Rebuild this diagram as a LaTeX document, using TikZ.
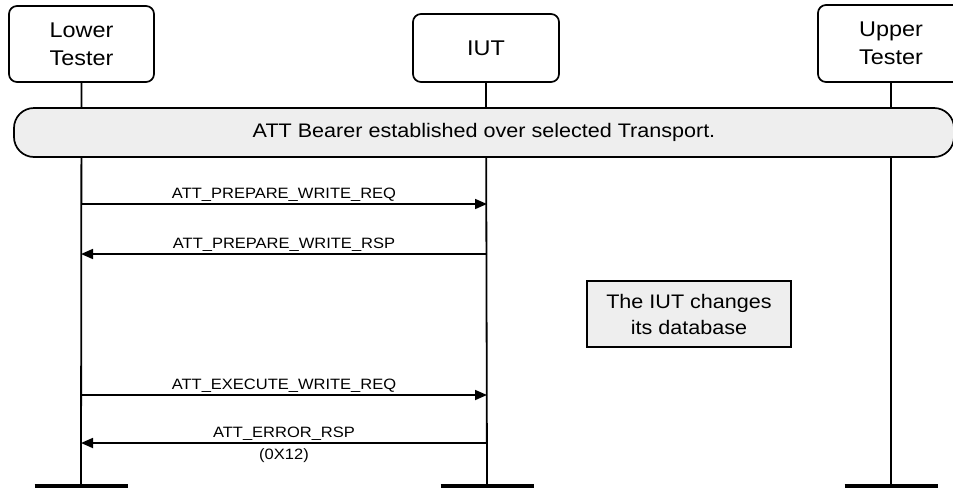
\documentclass[tikz,border=0pt]{standalone}
\usepackage{fontspec}
\setmainfont[FakeStretch=1.1]{Liberation Sans}
\usetikzlibrary{arrows.meta}
\definecolor{boxgray}{HTML}{EEEEEE}
\tikzset{
  x=1pt,y=-1pt,
  actor/.style={draw,line width=1.7pt,rounded corners=8pt,fill=white,inner sep=0pt,font=\fontsize{21.3}{28}\selectfont,align=center},
  lifeline/.style={line width=1.8pt},
  endbar/.style={line width=3.5pt},
  msg/.style={line width=1.7pt,-{Triangle[length=12pt,width=10pt]}},
  msglabel/.style={font=\fontsize{15}{17}\selectfont,inner sep=2pt},
  bearer/.style={draw,line width=1.7pt,rounded corners=20pt,fill=boxgray,font=\fontsize{19.6}{22}\selectfont},
  note/.style={draw,line width=1.7pt,fill=boxgray,font=\fontsize{19.6}{26}\selectfont,align=center,inner sep=0pt}
}
\begin{document}
\begin{tikzpicture}
\useasboundingbox (0,0) rectangle (953,488);
% actors
\node[actor,minimum width=145pt,minimum height=76pt] (lt) at (81.5,44) {Lower\\Tester};
\node[actor,minimum width=146pt,minimum height=68pt] (iut) at (486,48) {IUT};
\node[actor,minimum width=146pt,minimum height=77pt] (ut) at (891,43.5) {Upper\\Tester};
% lifeline ends
\coordinate (ltend) at (81,486);
\coordinate (iutend) at (487,486);
\coordinate (utend) at (891,486);
\draw[lifeline] (lt.south) -- (ltend);
\draw[lifeline] (iut.south) -- (iutend);
\draw[lifeline] (ut.south) -- (utend);
\draw[endbar] ([xshift=-46.5pt]ltend) -- ([xshift=46.5pt]ltend);
\draw[endbar] ([xshift=-46.5pt]iutend) -- ([xshift=46.5pt]iutend);
\draw[endbar] ([xshift=-46.5pt]utend) -- ([xshift=46.5pt]utend);
% bearer
\node[bearer,minimum width=940pt,minimum height=49pt] (bear) at (484,132.5) {ATT Bearer established over selected Transport.};
% messages
\coordinate (a1) at (81,204); \coordinate (b1) at (487,204);
\coordinate (a2) at (81,254); \coordinate (b2) at (487,254);
\coordinate (a3) at (81,395); \coordinate (b3) at (487,395);
\coordinate (a4) at (81,443); \coordinate (b4) at (487,443);
\draw[msg] (a1) -- node[msglabel,above] {ATT\_PREPARE\_WRITE\_REQ} (b1);
\draw[msg] (b2) -- node[msglabel,above] {ATT\_PREPARE\_WRITE\_RSP} (a2);
\draw[msg] (a3) -- node[msglabel,above] {ATT\_EXECUTE\_WRITE\_REQ} (b3);
\draw[msg] (b4) -- node[msglabel,above] {ATT\_ERROR\_RSP} node[msglabel,below,yshift=-3pt] {(0X12)} (a4);
% note
\node[note,minimum width=204pt,minimum height=66pt] (chg) at (689,314) {The IUT changes\\its database};
\end{tikzpicture}
\end{document}
